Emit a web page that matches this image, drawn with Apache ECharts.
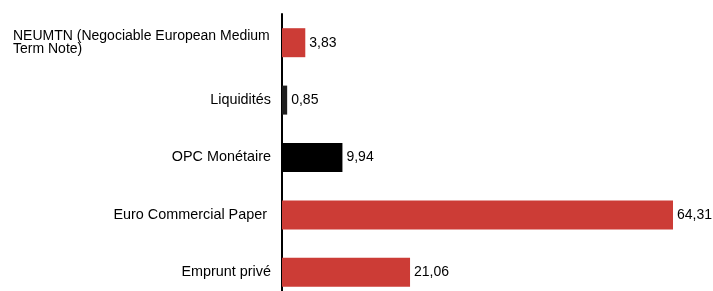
<!DOCTYPE html>
<html><head><meta charset="utf-8">
<script src="https://cdn.jsdelivr.net/npm/echarts@6/dist/echarts.min.js"></script>
<style>html,body{margin:0;padding:0;background:#fff}#c{width:713px;height:291px}</style>
</head><body><div id="c"></div>
<script>
var categories = ["NEUMTN (Negociable European Medium\nTerm Note)", "Liquidités", "OPC Monétaire", "Euro Commercial Paper ", "Emprunt privé"];
var values = [3.83, 0.85, 9.94, 64.31, 21.06];
var colors = ["#cc3c36", "#1e1e1e", "#000000", "#cc3c36", "#cc3c36"];

var chart = echarts.init(document.getElementById('c'));
chart.setOption({
  animation: false,
  grid: {left: 282, width: 425.6, top: 14, height: 287, outerBoundsMode: 'none', containLabel: false},
  xAxis: {type: 'value', min: 0, max: 70, show: false},
  yAxis: {
    type: 'category', inverse: true, data: categories,
    axisLine: {show: true, lineStyle: {color: '#000', width: 2}},
    axisTick: {show: false},
    axisLabel: {
      margin: 11, color: '#000', fontFamily: 'Liberation Sans, Arial', fontSize: 14.4,
      formatter: function (v, i) {
        if (i === 0) return '{a|' + v + '}';
        return v;
      },
      rich: {a: {width: 258, align: 'left', lineHeight: 13, fontSize: 14, fontFamily: 'Liberation Sans, Arial', color: '#000'}}
    }
  },
  series: [{
    type: 'bar', barWidth: 29,
    data: values.map(function (v, i) { return {value: v, itemStyle: {color: colors[i]}}; }),
    label: {
      show: true, position: 'right', distance: 4, color: '#000',
      fontFamily: 'Liberation Sans, Arial', fontSize: 14,
      formatter: function (p) { return p.value.toFixed(2).replace('.', ','); }
    }
  }]
});
</script></body></html>
